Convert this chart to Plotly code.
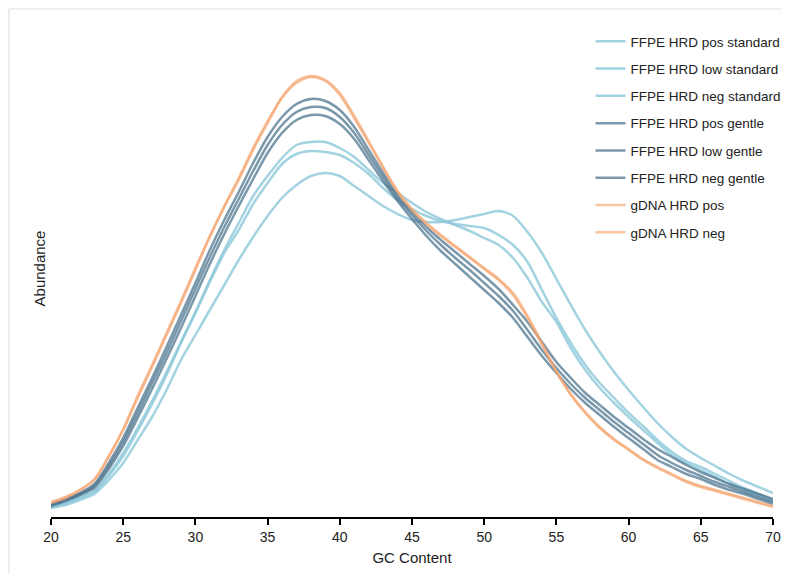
import plotly.graph_objects as go

gc_content = list(range(20, 71))

ffpe_pos_standard = [9, 12, 17, 23, 37, 54, 77, 100, 127, 157, 182, 207, 232, 257, 280, 301, 319, 332, 341, 344,
                     341, 331, 321, 311, 303, 297, 295, 295, 297, 300, 303, 306, 301, 285, 264, 238, 212, 187, 165, 145,
                     127, 110, 94, 80, 68, 59, 51, 43, 36, 30, 24]
ffpe_low_standard = [10, 14, 19, 25, 41, 61, 86, 113, 142, 174, 204, 235, 264, 287, 313, 334, 353, 363, 366, 365,
                     362, 354, 343, 329, 317, 308, 301, 296, 293, 291, 289, 282, 272, 255, 227, 199, 174, 152, 134, 119,
                     104, 91, 77, 65, 56, 50, 43, 36, 29, 23, 17]
ffpe_neg_standard = [10, 14, 20, 26, 43, 64, 89, 116, 145, 175, 205, 237, 267, 294, 321, 341, 359, 372, 375, 375,
                     369, 360, 347, 334, 324, 314, 305, 298, 292, 286, 279, 272, 259, 239, 215, 195, 169, 147, 129, 114,
                     100, 87, 74, 62, 54, 47, 40, 33, 27, 22, 16]
ffpe_pos_gentle = [13, 18, 24, 33, 54, 79, 109, 139, 170, 202, 234, 267, 297, 325, 354, 380, 400, 413, 418, 416,
                   407, 390, 367, 344, 322, 305, 290, 277, 265, 253, 241, 228, 212, 195, 175, 155, 139, 124, 112, 100,
                   89, 78, 68, 60, 52, 45, 39, 33, 28, 23, 18]
ffpe_low_gentle = [12, 17, 23, 31, 51, 75, 104, 134, 164, 196, 228, 260, 290, 318, 346, 372, 392, 405, 410, 409,
                   400, 384, 362, 340, 319, 302, 286, 272, 259, 247, 234, 221, 206, 187, 167, 149, 133, 119, 107, 95,
                   84, 73, 62, 54, 47, 41, 35, 30, 25, 20, 15]
ffpe_neg_gentle = [11, 16, 22, 29, 48, 71, 99, 128, 158, 189, 221, 253, 283, 311, 338, 364, 384, 397, 402, 401,
                   393, 378, 357, 336, 316, 298, 281, 266, 253, 240, 227, 214, 199, 180, 161, 144, 128, 114, 102, 90,
                   79, 68, 57, 50, 43, 38, 32, 27, 23, 18, 13]
gdna_pos = [15, 20, 27, 37, 60, 87, 119, 150, 182, 214, 247, 280, 310, 337, 367, 394, 419, 434, 440, 436,
            422, 399, 374, 349, 325, 307, 293, 281, 270, 259, 248, 237, 222, 199, 172, 145, 122, 104, 89, 77,
            67, 57, 49, 42, 35, 30, 26, 22, 18, 14, 10]
gdna_neg = [14, 19, 27, 38, 61, 88, 121, 152, 184, 216, 249, 281, 311, 339, 369, 396, 420, 436, 441, 437,
            424, 401, 376, 350, 326, 308, 294, 282, 271, 260, 249, 238, 224, 201, 174, 146, 123, 105, 90, 78,
            68, 58, 50, 43, 36, 31, 27, 23, 19, 15, 11]

x_ticks = [20, 25, 30, 35, 40, 45, 50, 55, 60, 65, 70]

series = [
    ("FFPE HRD pos standard", ffpe_pos_standard, "rgba(140,200,218,0.8)"),
    ("FFPE HRD low standard", ffpe_low_standard, "rgba(140,200,218,0.8)"),
    ("FFPE HRD neg standard", ffpe_neg_standard, "rgba(140,200,218,0.8)"),
    ("FFPE HRD pos gentle", ffpe_pos_gentle, "rgba(70,112,138,0.72)"),
    ("FFPE HRD low gentle", ffpe_low_gentle, "rgba(70,112,138,0.72)"),
    ("FFPE HRD neg gentle", ffpe_neg_gentle, "rgba(70,112,138,0.72)"),
    ("gDNA HRD pos", gdna_pos, "rgba(245,165,110,0.65)"),
    ("gDNA HRD neg", gdna_neg, "rgba(245,165,110,0.65)"),
]

fig = go.Figure()
for i, (name, vals, col) in enumerate(series):
    fig.add_trace(go.Scatter(
        x=gc_content, y=vals, name=name, mode="lines", legendgroup=f"g{i}",
        line=dict(color=col, width=2.5, shape="spline", smoothing=0.8),
    ))

# the page body adds an 8px offset; 773x565 fits the visible window
fig.update_layout(
    width=773, height=565,
    margin=dict(l=43, r=8, t=12, b=56, autoexpand=False),
    paper_bgcolor="white", plot_bgcolor="white",
    font=dict(family="Liberation Sans, Arial, sans-serif", color="#222", size=14),
    showlegend=True,
    legend=dict(x=0.7472, y=0.988, xanchor="left", yanchor="top", bgcolor="rgba(0,0,0,0)",
                font=dict(size=13.5, color="#222"), tracegroupgap=6.75, traceorder="grouped"),
    xaxis=dict(range=[20, 70], tickvals=x_ticks, showline=True, linecolor="black", linewidth=1.5,
               ticks="outside", ticklen=6, tickwidth=1.5, tickcolor="black", showgrid=False, zeroline=False,
               tickfont=dict(size=14, color="#222"), ticklabeloverflow="allow",
               title=dict(text="GC Content", font=dict(size=15, color="#222"), standoff=9)),
    yaxis=dict(range=[0, 497], showticklabels=False, showline=False, ticks="", showgrid=False, zeroline=False,
               title=dict(text="Abundance", font=dict(size=15, color="#222"), standoff=0)),
    shapes=[
        dict(type="line", xref="paper", yref="paper", x0=-0.0582, x1=1.1, y0=1.0221, y1=1.0221,
             line=dict(color="#dcdcdc", width=1)),
        dict(type="line", xref="paper", yref="paper", x0=-0.0582, x1=-0.0582, y0=1.0221, y1=-0.2,
             line=dict(color="#dcdcdc", width=1)),
    ],
)

fig.write_html("out.html")
